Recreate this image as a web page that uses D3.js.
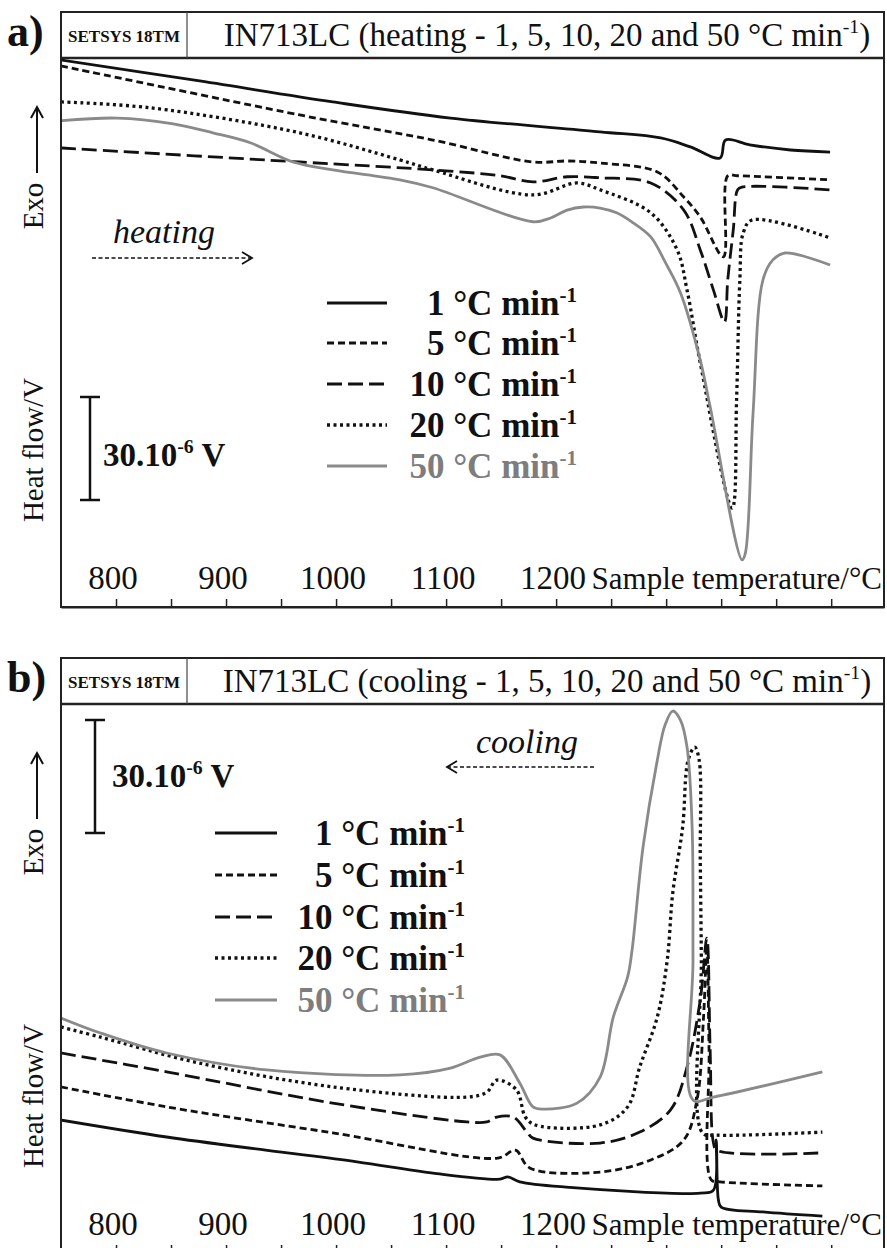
<!DOCTYPE html>
<html>
<head>
<meta charset="utf-8">
<title>IN713LC heating / cooling</title>
<script src="https://d3js.org/d3.v7.min.js"></script>
<style>
  body { margin: 0; background: #fff; }
  svg text { font-family: "Liberation Serif", "Times New Roman", serif; fill: #111; }
</style>
</head>
<body>
<div id="chart"></div>
<script>
// x ticks..........................................
var tickVals = [800, 850, 900, 950, 1000, 1050, 1100, 1150, 1200, 1250, 1300, 1350, 1400, 1450];
var tickLabels = [800, 900, 1000, 1100, 1200];
var rates = ['1', '5', '10', '20', '50'];

// a) heating, temperature (°C) and heat flow (µV)..........
var heatT1 = [750, 876, 997, 1104, 1240, 1295, 1322, 1349, 1354, 1376, 1413, 1449];
var heatV1 = [159.3, 153.2, 147.1, 142.4, 138.4, 136.6, 134.0, 130.8, 136.0, 134.6, 133.1, 132.5];
var heatT5 = [750, 967, 1088, 1179, 1210, 1240, 1292, 1316, 1331, 1352, 1356, 1365, 1449];
var heatV5 = [157.6, 143.3, 136.0, 129.6, 129.9, 129.3, 126.7, 119.4, 113.6, 102.0, 125.6, 125.6, 124.4];
var heatT10 = [750, 967, 1088, 1149, 1179, 1210, 1240, 1286, 1316, 1331, 1343, 1353, 1356, 1361, 1365, 1369, 1449];
var heatV10 = [133.7, 129.6, 127.3, 125.6, 123.8, 125.3, 125.0, 123.5, 115.6, 104.0, 92.3, 83.0, 95.3, 109.8, 121.5, 122.3, 121.5];
var heatT20 = [750, 831, 967, 1058, 1088, 1179, 1219, 1240, 1286, 1310, 1319, 1331, 1360, 1364, 1367, 1370, 1378, 1449];
var heatV20 = [147.1, 145.4, 138.1, 130.2, 127.3, 120.0, 123.5, 121.5, 114.8, 104.0, 92.3, 71.1, 28.8, 60.3, 95.3, 108.9, 112.7, 107.5];
var heatT50 = [750, 801, 852, 888, 922, 961, 997, 1058, 1088, 1179, 1195, 1210, 1225, 1240, 1255, 1270, 1286, 1299, 1313, 1331, 1340, 1369, 1372, 1379, 1388, 1397, 1408, 1449];
var heatV50 = [141.6, 142.4, 140.7, 138.1, 135.2, 129.6, 127.3, 124.4, 122.1, 112.2, 113.3, 115.6, 116.5, 116.2, 114.8, 111.9, 107.8, 100.5, 91.5, 71.9, 58.3, 13.7, 15.7, 56.5, 95.3, 101.1, 103.1, 99.6];

// b) cooling..........................................
var coolT1 = [750, 846, 936, 1019, 1088, 1149, 1156, 1167, 1209, 1331, 1343, 1345.5, 1347.5, 1350, 1388, 1442];
var coolV1 = [35.3, 30.8, 27.3, 24.2, 21.2, 19.6, 20.2, 18.9, 17.5, 15.9, 16.7, 30.0, 14.1, 12.2, 10.9, 9.8];
var coolT5 = [750, 846, 997, 1147, 1163, 1176, 1240, 1286, 1316, 1328, 1334, 1337, 1339, 1341, 1349, 1442];
var coolV5 = [44.1, 38.8, 31.9, 25.2, 27.3, 22.6, 21.5, 24.7, 30.0, 40.6, 62.7, 81.8, 53.9, 19.4, 18.9, 17.8];
var coolT10 = [750, 846, 997, 1119, 1137, 1146, 1161, 1174, 1179, 1240, 1276, 1304, 1319, 1331, 1337, 1340, 1343, 1346, 1442];
var coolV10 = [53.1, 48.1, 39.8, 34.8, 34.8, 36.1, 36.1, 31.9, 30.5, 29.2, 32.1, 38.0, 49.4, 67.2, 83.6, 53.9, 29.2, 27.3, 26.6];
var coolT20 = [750, 786, 876, 997, 1119, 1137, 1146, 1164, 1172, 1181, 1240, 1265, 1276, 1292, 1301, 1306, 1315, 1320, 1326, 1330, 1331, 1332, 1333, 1346, 1442];
var coolV20 = [60.0, 57.3, 50.4, 44.1, 41.4, 42.7, 45.9, 43.3, 36.1, 34.0, 34.0, 38.8, 49.4, 62.7, 77.8, 95.6, 113.1, 130.9, 134.3, 130.9, 104.3, 77.8, 31.9, 31.3, 32.1];
var coolT50 = [750, 786, 846, 937, 1058, 1104, 1131, 1149, 1167, 1179, 1188, 1219, 1240, 1252, 1265, 1269, 1279, 1292, 1299, 1306, 1313, 1319, 1323.6, 1324.4, 1324.6, 1343, 1442];
var coolV50 = [62.4, 58.4, 53.1, 48.6, 47.3, 49.1, 52.0, 52.6, 45.1, 38.8, 38.2, 39.8, 46.7, 62.7, 73.3, 80.4, 107.8, 130.9, 140.2, 143.9, 141.5, 134.3, 113.1, 77.8, 40.6, 41.4, 48.1];

// styles.............................................
var dashes = [null, '7,4', '15,6', '3,3.5', null];
var colors = ['#111', '#111', '#111', '#111', '#8a8a8a'];
var textColors = ['#111', '#111', '#111', '#111', '#7d7d7d'];

var panels = [
  { label: 'a)', dy: 0, mode: 'heating', yMax: 159.6,
    T: [heatT1, heatT5, heatT10, heatT20, heatT50],
    V: [heatV1, heatV5, heatV10, heatV20, heatV50],
    bar: { x: 90, top: 397 }, barText: { x: 103, y: 466 },
    legend: { x1: 327, x2: 387, ys: [303, 343, 384, 425, 466], end: 577 },
    arrow: { text: 'heating', tx: 113, ty: 243, anchor: 'start', x1: 92, x2: 252, y: 258, dir: 1 } },
  { label: 'b)', dy: 646, mode: 'cooling', yMax: 145.5,
    T: [coolT1, coolT5, coolT10, coolT20, coolT50],
    V: [coolV1, coolV5, coolV10, coolV20, coolV50],
    bar: { x: 95, top: 74 }, barText: { x: 112, y: 141 },
    legend: { x1: 215, x2: 277, ys: [187, 229, 271, 312, 354], end: 465 },
    arrow: { text: 'cooling', tx: 578, ty: 107, anchor: 'end', x1: 447, x2: 595, y: 121, dir: -1 } }
];

var svg = d3.select('#chart').append('svg')
  .attr('width', 887)
  .attr('height', 1248);

var xScale = d3.scaleLinear()
  .domain([750, 1498])
  .range([61, 884]);

function supText(sel, fs, main, sup, after) {
  sel.append('tspan').text(main);
  sel.append('tspan').attr('font-size', fs * 0.6).attr('dy', -fs * 0.38).text(sup);
  if (after) sel.append('tspan').attr('font-size', fs).attr('dy', fs * 0.38).text(after);
}

panels.forEach(function(p, pi) {
  var g = svg.append('g').attr('transform', 'translate(0,' + p.dy + ')');

  var yScale = d3.scaleLinear()
    .domain([0, p.yMax])
    .range([607, 59]);

  //frame + header..............................
  g.append('rect')
    .attr('x', 61).attr('y', 12).attr('width', 823).attr('height', 595)
    .style('fill', 'none').style('stroke', '#222').style('stroke-width', 2);
  g.append('line').attr('x1', 61).attr('x2', 884).attr('y1', 58).attr('y2', 58)
    .style('stroke', '#222').style('stroke-width', 2.5);
  g.append('line').attr('x1', 187).attr('x2', 187).attr('y1', 12).attr('y2', 58)
    .style('stroke', '#444').style('stroke-width', 1.2);

  g.append('text').attr('x', 7).attr('y', 46)
    .style('font-size', '44px').style('font-weight', 'bold').text(p.label);
  g.append('text').attr('x', 124).attr('y', 42).attr('text-anchor', 'middle')
    .style('font-size', '17px').style('font-weight', 'bold').text('SETSYS 18TM');
  var title = g.append('text').attr('x', 547).attr('y', 46).attr('text-anchor', 'middle')
    .style('font-size', '33px');
  supText(title, 33, 'IN713LC (' + p.mode + ' - 1, 5, 10, 20 and 50 °C min', '-1', ')');

  //clip.........................................
  g.append('clipPath').attr('id', 'clip' + pi)
    .append('rect').attr('x', 62).attr('y', 59).attr('width', 821).attr('height', 547);

  //curves.......................................
  var line = d3.line()
    .x(function(d) { return xScale(d[0]); })
    .y(function(d) { return yScale(d[1]); })
    .curve(d3.curveCatmullRom.alpha(0.5));

  g.append('g').attr('clip-path', 'url(#clip' + pi + ')')
    .selectAll('path')
    .data(rates)
    .enter()
    .append('path')
    .attr('d', function(d, i) { return line(d3.zip(p.T[i], p.V[i])); })
    .style('fill', 'none')
    .style('stroke', function(d, i) { return colors[i]; })
    .style('stroke-width', function(d, i) { return i === 3 ? 3.3 : 2.8; })
    .style('stroke-dasharray', function(d, i) { return dashes[i]; });

  //x axis (ticks point inward)..................
  var xAxis = d3.axisBottom(xScale)
    .tickValues(tickVals)
    .tickSize(-8)
    .tickSizeOuter(0)
    .tickFormat('');
  var xGuide = g.append('g').attr('transform', 'translate(0,607)').call(xAxis);
  xGuide.select('.domain').style('stroke', '#222').style('stroke-width', 2);
  xGuide.selectAll('line').style('stroke', '#222').style('stroke-width', 1.5);

  g.selectAll('.tlabel')
    .data(tickLabels)
    .enter()
    .append('text')
    .attr('class', 'tlabel')
    .attr('x', function(d) { return xScale(d) - 3; })
    .attr('y', 589)
    .attr('text-anchor', 'middle')
    .style('font-size', '33px')
    .text(function(d) { return d; });
  g.append('text').attr('x', 882).attr('y', 589).attr('text-anchor', 'end')
    .style('font-size', '31px').text('Sample temperature/°C');

  //y labels.....................................
  g.append('text').attr('transform', 'translate(43,206) rotate(-90)')
    .attr('text-anchor', 'middle').style('font-size', '29px').text('Exo');
  g.append('line').attr('x1', 37).attr('x2', 37).attr('y1', 173).attr('y2', 108)
    .style('stroke', '#111').style('stroke-width', 2);
  g.append('path').attr('d', 'M31,118 L37,107 L43,118')
    .style('fill', 'none').style('stroke', '#111').style('stroke-width', 2);
  g.append('text').attr('transform', 'translate(43,450) rotate(-90)')
    .attr('text-anchor', 'middle').style('font-size', '29px').text('Heat flow/V');

  //scale bar 30 µV..............................
  var barLen = yScale(0) - yScale(30);
  var b0 = p.bar.top, b1 = p.bar.top + barLen;
  g.append('line').attr('x1', p.bar.x).attr('x2', p.bar.x).attr('y1', b0).attr('y2', b1)
    .style('stroke', '#111').style('stroke-width', 2.5);
  [b0, b1].forEach(function(yy) {
    g.append('line').attr('x1', p.bar.x - 10).attr('x2', p.bar.x + 10).attr('y1', yy).attr('y2', yy)
      .style('stroke', '#111').style('stroke-width', 2.5);
  });
  var bt = g.append('text').attr('x', p.barText.x).attr('y', p.barText.y)
    .style('font-size', '33px').style('font-weight', 'bold');
  supText(bt, 33, '30.10', '-6', ' V');

  //direction arrow..............................
  var a = p.arrow;
  g.append('text').attr('x', a.tx).attr('y', a.ty).attr('text-anchor', a.anchor)
    .style('font-size', '34px').style('font-style', 'italic').text(a.text);
  g.append('line').attr('x1', a.x1).attr('x2', a.x2).attr('y1', a.y).attr('y2', a.y)
    .style('stroke', '#111').style('stroke-width', 1.6).style('stroke-dasharray', '4,2.5');
  var hx = a.dir > 0 ? a.x2 : a.x1;
  g.append('path')
    .attr('d', 'M' + (hx - a.dir * 10) + ',' + (a.y - 6) + ' L' + hx + ',' + a.y + ' L' + (hx - a.dir * 10) + ',' + (a.y + 6))
    .style('fill', 'none').style('stroke', '#111').style('stroke-width', 1.8);

  //legend.......................................
  var lg = p.legend;
  g.selectAll('.lgline')
    .data(rates)
    .enter()
    .append('line')
    .attr('class', 'lgline')
    .attr('x1', lg.x1).attr('x2', lg.x2)
    .attr('y1', function(d, i) { return lg.ys[i]; })
    .attr('y2', function(d, i) { return lg.ys[i]; })
    .style('stroke', function(d, i) { return colors[i]; })
    .style('stroke-width', function(d, i) { return i === 3 ? 3.3 : 2.8; })
    .style('stroke-dasharray', function(d, i) { return dashes[i]; });

  rates.forEach(function(r, i) {
    var t = g.append('text')
      .attr('x', lg.end).attr('y', lg.ys[i] + 12)
      .attr('text-anchor', 'end')
      .style('font-size', '35px').style('font-weight', 'bold')
      .style('fill', textColors[i]);
    supText(t, 35, r + ' °C min', '-1');
  });
});
</script>
</body>
</html>
